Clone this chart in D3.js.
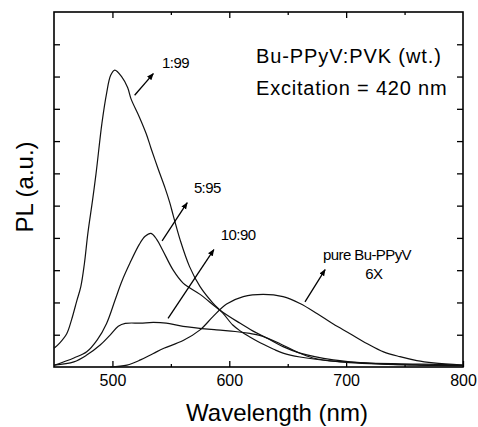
<!DOCTYPE html>
<html>
<head>
<meta charset="utf-8">
<script src="https://cdn.jsdelivr.net/npm/d3@7"></script>
<style>
  body { margin: 0; background: #fff; }
  svg { font-family: "Liberation Sans", Arial, sans-serif; }
</style>
</head>
<body>
<div id="chart"></div>
<script>
// PL spectra, [wavelength (nm), intensity (a.u.)]
const series199 = [
  [450, 0.58], [455, 0.75], [461, 1.04], [465, 1.46], [469.5, 2.05], [473, 2.5],
  [476, 3.2], [479, 4.15], [483, 5.17], [486, 6.0], [491, 7.55], [495, 8.48],
  [498.5, 9.04], [502, 9.2], [508, 8.99], [513, 8.66], [516, 8.3], [523, 7.75],
  [529, 7.22], [533, 6.78], [539, 6.15], [545, 5.55], [549, 5.1], [552, 4.7],
  [558, 3.93], [566, 3.11], [575, 2.49], [586, 1.98], [594.5, 1.67], [603, 1.3],
  [610, 1.1], [617.6, 0.93], [624, 0.8], [630.5, 0.68], [638, 0.55], [646, 0.43],
  [660.5, 0.31], [686, 0.19], [720, 0.12], [763, 0.09], [800, 0.06]
];
const series595 = [
  [450, 0.05], [467, 0.28], [478, 0.47], [487, 0.84], [495, 1.35], [502.5, 2.1],
  [508, 2.65], [515, 3.22], [523, 3.8], [528, 4.05], [533, 4.14], [538, 3.95],
  [543, 3.62], [552, 3.0], [560.5, 2.6], [575, 2.25], [592, 1.76], [609, 1.36],
  [620, 1.12], [632, 0.9], [646, 0.63], [660.5, 0.43], [689, 0.22], [718, 0.12],
  [763, 0.06], [800, 0.04]
];
const series1090 = [
  [450, 0.06], [467, 0.16], [478, 0.37], [489.5, 0.68], [498, 0.99], [505, 1.26],
  [511, 1.35], [524, 1.36], [535, 1.38], [546, 1.36], [560.5, 1.26], [589, 1.15],
  [605, 1.1], [617.6, 1.04], [626, 0.98], [643, 0.73], [657.7, 0.47], [671.6, 0.28],
  [694.8, 0.16], [750, 0.07], [800, 0.04]
];
const seriesPure = [
  [498, 0.0], [512.5, 0.06], [524, 0.22], [535, 0.42], [544, 0.58], [560.5, 0.82],
  [575, 1.15], [586, 1.56], [597.7, 1.95], [612, 2.18], [629, 2.25], [646, 2.18],
  [660.5, 1.97], [675, 1.66], [689, 1.33], [703, 1.04], [717.7, 0.73], [732, 0.47],
  [746, 0.32], [760.5, 0.2], [774.8, 0.13], [800, 0.06]
];

const xTicks = [500, 600, 700, 800];
const xMinorTicks = [550, 650, 750];
const yTicks = [1, 2, 3, 4, 5, 6, 7, 8, 9, 10];

// arrows: [x1, y1, x2, y2] in data units
const arrows = [
  [519, 8.42, 535, 9.09],
  [542.5, 3.91, 564, 5.09],
  [547.6, 1.51, 586.8, 3.64],
  [664.8, 2.02, 682, 3.02]
];
const labels = [
  { text: '1:99', x: 542.5, y: 9.26 },
  { text: '5:95', x: 569.7, y: 5.39 },
  { text: '10:90', x: 592.8, y: 3.93 },
  { text: 'pure Bu-PPyV', x: 680.3, y: 3.31 },
  { text: '6X', x: 716.3, y: 2.72 }
];

const width = 478;
const height = 427;
const margin = { top: 12, right: 15, bottom: 60, left: 54 };
const w = width - margin.left - margin.right;
const h = height - margin.top - margin.bottom;

const svg = d3.select('#chart')
  .append('svg')
  .attr('width', width)
  .attr('height', height);

svg.append('defs').append('marker')
  .attr('id', 'head')
  .attr('viewBox', '0 0 10 10')
  .attr('refX', 9)
  .attr('refY', 5)
  .attr('markerWidth', 7)
  .attr('markerHeight', 7)
  .attr('markerUnits', 'userSpaceOnUse')
  .attr('orient', 'auto')
  .append('path')
  .attr('d', 'M0,1 L10,5 L0,9 Z')
  .attr('fill', '#000');

const g = svg.append('g')
  .attr('transform', `translate(${margin.left},${margin.top})`);

const x = d3.scaleLinear().domain([450, 800]).range([0, w]);
const y = d3.scaleLinear().domain([0, 11]).range([h, 0]);

// Inward ticks on all four sides
g.append('g')
  .attr('transform', `translate(0,${h})`)
  .call(d3.axisBottom(x).tickValues(xTicks).tickSize(-6).tickPadding(8))
  .call(a => a.select('.domain').remove())
  .call(a => a.selectAll('text').style('font-size', '16px').attr('dy', '0.71em'));
g.append('g')
  .attr('transform', `translate(0,${h})`)
  .call(d3.axisBottom(x).tickValues(xMinorTicks).tickSize(-3).tickFormat(''))
  .call(a => a.select('.domain').remove());
g.append('g')
  .call(d3.axisTop(x).tickValues([500, 600, 700]).tickSize(-6).tickFormat(''))
  .call(a => a.select('.domain').remove());
g.append('g')
  .call(d3.axisTop(x).tickValues(xMinorTicks).tickSize(-3).tickFormat(''))
  .call(a => a.select('.domain').remove());
g.append('g')
  .call(d3.axisLeft(y).tickValues(yTicks).tickSize(-6).tickFormat(''))
  .call(a => a.select('.domain').remove());
g.append('g')
  .attr('transform', `translate(${w},0)`)
  .call(d3.axisRight(y).tickValues(yTicks).tickSize(-6).tickFormat(''))
  .call(a => a.select('.domain').remove());

g.selectAll('.tick line').attr('stroke', '#000').attr('stroke-width', 1.3);

// Frame
g.append('rect')
  .attr('width', w)
  .attr('height', h)
  .attr('fill', 'none')
  .attr('stroke', '#000')
  .attr('stroke-width', 1.6);

const line = d3.line()
  .x(d => x(d[0]))
  .y(d => y(d[1]))
  .curve(d3.curveCatmullRom.alpha(0.5));

[series199, series595, series1090, seriesPure].forEach(s => {
  g.append('path')
    .datum(s)
    .attr('d', line)
    .attr('fill', 'none')
    .attr('stroke', '#111')
    .attr('stroke-width', 1.2);
});

// Arrows
g.selectAll('.arrow')
  .data(arrows)
  .enter()
  .append('line')
  .attr('class', 'arrow')
  .attr('x1', d => x(d[0]))
  .attr('y1', d => y(d[1]))
  .attr('x2', d => x(d[2]))
  .attr('y2', d => y(d[3]))
  .attr('stroke', '#000')
  .attr('stroke-width', 1.3)
  .attr('marker-end', 'url(#head)');

// Curve labels
g.selectAll('.lbl')
  .data(labels)
  .enter()
  .append('text')
  .attr('class', 'lbl')
  .attr('x', d => x(d.x))
  .attr('y', d => y(d.y))
  .style('font-size', '15px')
  .style('letter-spacing', '-0.6px')
  .text(d => d.text);

// Legend text
svg.append('text')
  .attr('x', 256)
  .attr('y', 63)
  .style('font-size', '20px')
  .style('letter-spacing', '0.9px')
  .text('Bu-PPyV:PVK (wt.)');
svg.append('text')
  .attr('x', 256)
  .attr('y', 95)
  .style('font-size', '20px')
  .style('letter-spacing', '0.8px')
  .text('Excitation = 420 nm');

// Axis titles
svg.append('text')
  .attr('x', 277)
  .attr('y', 421)
  .attr('text-anchor', 'middle')
  .style('font-size', '24px')
  .text('Wavelength (nm)');
svg.append('text')
  .attr('transform', 'rotate(-90)')
  .attr('x', -187)
  .attr('y', 33)
  .attr('text-anchor', 'middle')
  .style('font-size', '24px')
  .text('PL (a.u.)');
</script>
</body>
</html>
